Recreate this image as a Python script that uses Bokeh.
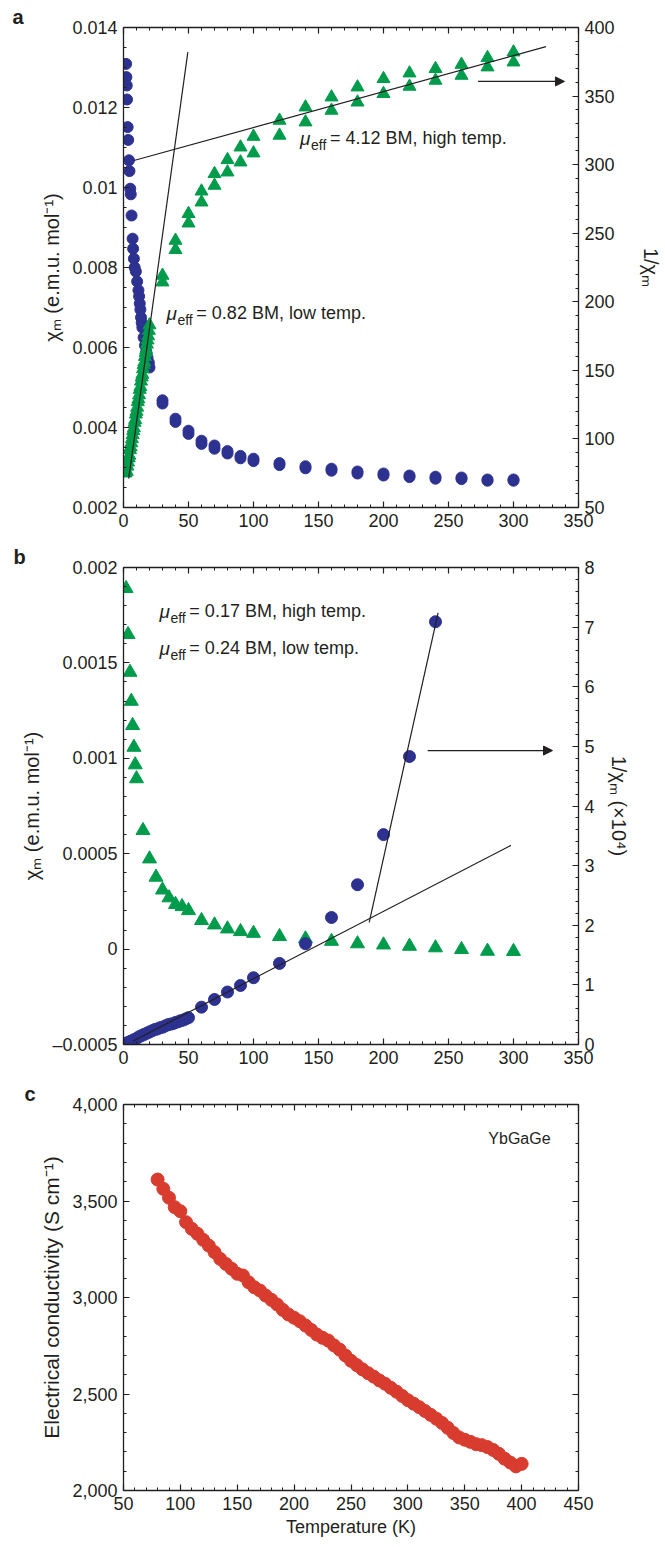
from bokeh.plotting import figure
from bokeh.layouts import column
from bokeh.models import (Range1d, LinearAxis, FixedTicker, Label, Arrow, NormalHead,
                          NumeralTickFormatter, CustomJSTickFormatter)
from bokeh.embed import file_html
from bokeh.resources import INLINE
import numpy as np

# ---------------- data: panel a ----------------
a_T_low_circ = [2, 2.2, 2.5, 2.7, 3.2, 3.6, 4.2, 4.6, 5.2, 5.6, 6.2, 7, 7.4, 8, 8.6, 9.5, 10.5, 11.5,
                12, 12.5, 13, 13.5, 14, 14.5, 15.5, 16.5, 17.5, 18.5, 19.5, 20]
a_chi_low = [0.01309, 0.01276, 0.01255, 0.0122, 0.01151, 0.01119, 0.01068, 0.01041, 0.00997, 0.00983,
             0.0093, 0.00872, 0.00847, 0.00822, 0.0080, 0.0079, 0.00765, 0.00743, 0.00728, 0.0071,
             0.00695, 0.00675, 0.00662, 0.0065, 0.00625, 0.00605, 0.0059, 0.00575, 0.00562, 0.0055]
a_T_high = [30, 40, 50, 60, 70, 80, 90, 100, 120, 140, 160, 180, 200, 220, 240, 260, 280, 300]
a_chi_high_1 = [0.00468, 0.00422, 0.00392, 0.00367, 0.00355, 0.00341, 0.00329, 0.00322, 0.00311,
                0.00303, 0.00297, 0.0029, 0.00285, 0.0028, 0.00277, 0.00275, 0.0027, 0.0027]
a_chi_high_2 = [0.0046, 0.00414, 0.00384, 0.00359, 0.00347, 0.00335, 0.00323, 0.00316, 0.00306,
                0.00298, 0.00292, 0.00285, 0.0028, 0.00276, 0.00272, 0.00271, 0.00267, 0.00267]
a_T_low_tri = [1.5, 2, 2.5, 3, 3.5, 4, 4.5, 5, 5.5, 6, 6.5, 7, 7.5, 8, 8.5, 9, 9.5, 10, 10.5, 11,
               11.5, 12, 12.5, 13, 13.5, 14, 14.5, 15, 15.5, 16, 16.5, 17, 17.5, 18, 18.5, 19, 19.5, 20]
a_inv_low = [75, 77, 76, 80, 83, 86, 88, 92, 94, 97, 100, 103, 106, 108, 112, 114, 118, 120, 123, 127,
             129, 132, 136, 138, 142, 145, 147, 151, 154, 156, 160, 163, 165, 169, 172, 175, 179, 183]
a_inv_high_1 = [219.2, 244.7, 264.2, 280.6, 293.3, 303.5, 312.7, 320.5, 332.2, 341.9, 349.2, 356.5,
                362.6, 366.7, 369.9, 373.0, 377.9, 382.0]
a_inv_high_2 = [214.3, 237.9, 257.3, 272.6, 284.8, 294.5, 301.8, 308.4, 321.3, 331.0, 339.5, 345.5,
                351.7, 357.0, 361.4, 365.0, 371.1, 374.7]
a_fit_low_T = [4, 49.5]
a_fit_low_inv = [71, 382]
a_fit_high_T = [8, 325]
a_fit_high_inv = [303, 386]

# ---------------- data: panel b ----------------
b_T_tri = [2, 3.5, 5, 6, 7, 8, 9, 10, 15, 20, 25, 30, 35, 40, 45, 50, 60, 70, 80, 90, 100, 120, 140,
           160, 180, 200, 220, 240, 260, 280, 300]
b_chi = [0.00189, 0.001649, 0.001451, 0.001299, 0.001172, 0.001058, 0.000966, 0.000893, 0.000622,
         0.000473, 0.000377, 0.00031, 0.000269, 0.000234, 0.000223, 0.000202, 0.00015, 0.000127,
         0.000106, 0.000092, 0.000083, 0.000066, 0.000054, 0.000041, 0.000028, 0.000022, 0.000015,
         0.000007, -0.000002, -0.000011, -0.000012]
b_T_circ = [2, 4, 6, 8, 10, 12, 14, 16, 18, 20, 22, 24, 26, 28, 30, 32, 34, 36, 38, 40, 42, 44, 46, 48,
            50, 60, 70, 80, 90, 100, 120, 140, 160, 180, 200, 220, 240]
b_inv = [0.02, 0.04, 0.06, 0.08, 0.10, 0.13, 0.15, 0.17, 0.19, 0.21, 0.23, 0.25, 0.26, 0.28, 0.29,
         0.31, 0.33, 0.34, 0.35, 0.37, 0.38, 0.40, 0.41, 0.43, 0.45, 0.626, 0.755, 0.88, 0.99, 1.12,
         1.36, 1.69, 2.13, 2.68, 3.52, 4.83, 7.09]
b_fit_low_T = [7.5, 298]
b_fit_low_inv = [0.06, 3.34]
b_fit_high_T = [189, 242]
b_fit_high_inv = [2.05, 7.24]

# ---------------- data: panel c ----------------
c_T = [80, 85, 90, 95, 100, 105, 110, 115, 120, 125, 130, 135, 140, 145, 150, 155, 160, 165, 170,
       175, 180, 185, 190, 195, 200, 205, 210, 215, 220, 225, 230, 235, 240, 245, 250, 255, 260, 265,
       270, 275, 280, 285, 290, 295, 300, 305, 310, 315, 320, 325, 330, 335, 340, 345, 350, 355, 360,
       365, 370, 375, 380, 385, 390, 395, 400]
c_sigma = [3611, 3563, 3517, 3468, 3447, 3390, 3356, 3330, 3299, 3269, 3235, 3200, 3174, 3149, 3123,
           3114, 3079, 3053, 3036, 3010, 2988, 2964, 2936, 2912, 2895, 2877, 2855, 2832, 2808, 2791,
           2777, 2752, 2730, 2700, 2672, 2650, 2628, 2608, 2590, 2570, 2553, 2532, 2512, 2490, 2468,
           2450, 2432, 2412, 2392, 2372, 2350, 2325, 2298, 2275, 2263, 2252, 2240, 2235, 2225, 2210,
           2190, 2165, 2145, 2125, 2138]

BLUE = "#2d3291"
GREEN = "#009b4b"
RED = "#d83c2e"
INK = "#231f20"
FONT = "Liberation Sans"

W = 665


def style_axis(ax, labels=True, label_standoff=6):
    ax.major_tick_in = 6
    ax.major_tick_out = 0
    ax.minor_tick_in = 3
    ax.minor_tick_out = 0
    ax.axis_line_width = 1.3
    ax.axis_line_color = INK
    ax.major_tick_line_color = INK
    ax.minor_tick_line_color = INK
    ax.major_tick_line_width = 1.2
    ax.minor_tick_line_width = 1.0
    ax.major_label_text_font = FONT
    ax.major_label_text_font_size = "18px"
    ax.major_label_text_color = INK
    ax.major_label_standoff = 6
    ax.axis_label_text_font = FONT
    ax.axis_label_text_font_size = "20px"
    ax.axis_label_text_font_style = "normal"
    ax.axis_label_text_color = INK
    ax.axis_label_standoff = label_standoff
    if not labels:
        ax.formatter = CustomJSTickFormatter(code="return ''")
        ax.major_label_standoff = 0


plain_fmt = CustomJSTickFormatter(code="return tick < 0 ? '\\u2013' + String(-tick) : String(tick);")


def mapper(frame, xr, yr):
    l, r, t, b = frame
    def f(xp, yp):
        return (xr[0] + (xp - l) / (r - l) * (xr[1] - xr[0]),
                yr[0] + (b - yp) / (b - t) * (yr[1] - yr[0]))
    return f


def add_text(p, m, xp, yp, text, size="18px", style="normal", align="left"):
    x, y = m(xp, yp)
    p.add_layout(Label(x=x, y=y, text=text, text_font=FONT, text_font_size=size,
                       text_font_style=style, text_color=INK, text_baseline="middle",
                       text_align=align))


def add_mu(p, m, xp, yp, rest):
    add_text(p, m, xp, yp, "\u03bc", size="19px", style="italic")
    add_text(p, m, xp + 11, yp + 6, "eff", size="14px")
    add_text(p, m, xp + 30, yp - 1, rest, size="18px")


def base_fig(height, xr, yr, frame, page_top, letter):
    l, r, t, b = frame
    p = figure(width=W, height=height, x_range=Range1d(*xr), y_range=Range1d(*yr),
               output_backend="svg", toolbar_location=None, title=letter,
               min_border_left=l, min_border_right=W - r,
               min_border_top=t - page_top, min_border_bottom=(page_top + height) - b)
    p.title.align = "left"
    p.title.offset = 12 - l
    p.title.standoff = 0
    p.title.text_font = FONT
    p.title.text_font_size = "20px"
    p.title.text_font_style = "bold"
    p.title.text_color = INK
    p.grid.visible = False
    p.outline_line_color = None
    p.background_fill_color = "white"
    p.border_fill_color = "white"
    return p


# ================= panel a =================
fa = (123, 579, 27, 507)
pa = base_fig(540, (0, 350), (0.002, 0.014), fa, 0, "a")
pa.extra_y_ranges = {"inv": Range1d(50, 400)}
pa.xaxis.ticker = FixedTicker(ticks=list(range(0, 351, 50)), minor_ticks=list(range(0, 351, 10)))
pa.yaxis.ticker = FixedTicker(ticks=[0.002, 0.004, 0.006, 0.008, 0.01, 0.012, 0.014],
                              minor_ticks=list(np.round(np.arange(0.002, 0.01401, 0.0005), 5)))
pa.yaxis.formatter = plain_fmt
pa.yaxis.axis_label = "\u03c7\u2098 (e.m.u. mol\u207b\u00b9)"
for ax in pa.xaxis + pa.yaxis:
    style_axis(ax)
top_a = LinearAxis(ticker=FixedTicker(ticks=list(range(0, 351, 50)), minor_ticks=list(range(0, 351, 10))))
style_axis(top_a, labels=False)
pa.add_layout(top_a, "above")
right_a = LinearAxis(y_range_name="inv", axis_label="1/\u03c7\u2098",
                     ticker=FixedTicker(ticks=list(range(50, 401, 50)), minor_ticks=list(range(50, 401, 10))))
style_axis(right_a, label_standoff=22)
pa.add_layout(right_a, "right")

pa.scatter(a_T_low_circ, a_chi_low, marker="circle", size=11, color=BLUE)
pa.scatter(a_T_high, a_chi_high_2, marker="circle", size=11, color=BLUE)
pa.scatter(a_T_high, a_chi_high_1, marker="circle", size=11, color=BLUE)
pa.scatter(a_T_low_tri, a_inv_low, marker="triangle", size=13, color=GREEN, y_range_name="inv")
pa.scatter(a_T_high, a_inv_high_1, marker="triangle", size=13, color=GREEN, y_range_name="inv")
pa.scatter(a_T_high, a_inv_high_2, marker="triangle", size=13, color=GREEN, y_range_name="inv")
pa.line(a_fit_low_T, a_fit_low_inv, line_color=INK, line_width=1.2, y_range_name="inv")
pa.line(a_fit_high_T, a_fit_high_inv, line_color=INK, line_width=1.2, y_range_name="inv")
pa.add_layout(Arrow(x_start=272.7, y_start=360.7, x_end=339.2, y_end=360.7, y_range_name="inv",
                    line_color=INK, line_width=1.2,
                    end=NormalHead(size=9, fill_color=INK, line_color=INK)))
ma = mapper(fa, (0, 350), (0.002, 0.014))
add_mu(pa, ma, 300, 138, "= 4.12 BM, high temp.")
add_mu(pa, ma, 166, 313, "= 0.82 BM, low temp.")

# ================= panel b =================
fb = (122, 578, 567, 1044)
pb = base_fig(538, (0, 350), (-0.0005, 0.002), fb, 540, "b")
pb.extra_y_ranges = {"inv": Range1d(0, 8)}
pb.xaxis.ticker = FixedTicker(ticks=list(range(0, 351, 50)), minor_ticks=list(range(0, 351, 10)))
pb.yaxis.ticker = FixedTicker(ticks=[-0.0005, 0.0, 0.0005, 0.001, 0.0015, 0.002],
                              minor_ticks=list(np.round(np.arange(-0.0005, 0.00201, 0.0001), 5)))
pb.yaxis.formatter = plain_fmt
pb.yaxis.axis_label = "\u03c7\u2098 (e.m.u. mol\u207b\u00b9)"
for ax in pb.xaxis + pb.yaxis:
    style_axis(ax)
top_b = LinearAxis(ticker=FixedTicker(ticks=list(range(0, 351, 50)), minor_ticks=list(range(0, 351, 10))))
style_axis(top_b, labels=False)
pb.add_layout(top_b, "above")
right_b = LinearAxis(y_range_name="inv", axis_label="1/\u03c7\u2098 (\u00d710\u2074)",
                     ticker=FixedTicker(ticks=list(range(0, 9)),
                                        minor_ticks=list(np.round(np.arange(0, 8.01, 0.2), 2))))
style_axis(right_b, label_standoff=10)
pb.add_layout(right_b, "right")

pb.scatter(b_T_tri, b_chi, marker="triangle", size=14, color=GREEN)
pb.scatter(b_T_circ, b_inv, marker="circle", size=12, color=BLUE, y_range_name="inv")
pb.line(b_fit_low_T, b_fit_low_inv, line_color=INK, line_width=1.2, y_range_name="inv")
pb.line(b_fit_high_T, b_fit_high_inv, line_color=INK, line_width=1.2, y_range_name="inv")
pb.add_layout(Arrow(x_start=234, y_start=4.93, x_end=330, y_end=4.93, y_range_name="inv",
                    line_color=INK, line_width=1.2,
                    end=NormalHead(size=9, fill_color=INK, line_color=INK)))
mb = mapper(fb, (0, 350), (-0.0005, 0.002))
add_mu(pb, mb, 158, 611, "= 0.17 BM, high temp.")
add_mu(pb, mb, 158, 648, "= 0.24 BM, low temp.")

# ================= panel c =================
fc = (111, 589, 1104, 1490)
pc = base_fig(469, (50, 450), (2000, 4000), fc, 1078, "c")
pc.xaxis.ticker = FixedTicker(ticks=list(range(50, 451, 50)), minor_ticks=list(range(50, 451, 10)))
pc.yaxis.ticker = FixedTicker(ticks=list(range(2000, 4001, 500)), minor_ticks=list(range(2000, 4001, 100)))
pc.yaxis.formatter = NumeralTickFormatter(format="0,0")
pc.yaxis.axis_label = "Electrical conductivity (S cm\u207b\u00b9)"
pc.xaxis.axis_label = "Temperature (K)"
for ax in pc.xaxis + pc.yaxis:
    style_axis(ax)
pc.yaxis.axis_label_text_font_size = "21px"
pc.xaxis.axis_label_text_font_size = "18px"
pc.xaxis.axis_label_standoff = 4
top_c = LinearAxis(ticker=FixedTicker(ticks=list(range(50, 451, 50)), minor_ticks=list(range(50, 451, 10))))
style_axis(top_c, labels=False)
pc.add_layout(top_c, "above")
right_c = LinearAxis(ticker=FixedTicker(ticks=list(range(2000, 4001, 500)),
                                        minor_ticks=list(range(2000, 4001, 100))))
style_axis(right_c, labels=False)
pc.add_layout(right_c, "right")
pc.scatter(c_T, c_sigma, marker="circle", size=13, color=RED)
mc = mapper(fc, (50, 450), (2000, 4000))
add_text(pc, mc, 527, 1138, "YbGaGe", size="16px", align="center")

layout = column(pa, pb, pc, spacing=0)
open("out.html", "w").write(file_html(layout, INLINE))
